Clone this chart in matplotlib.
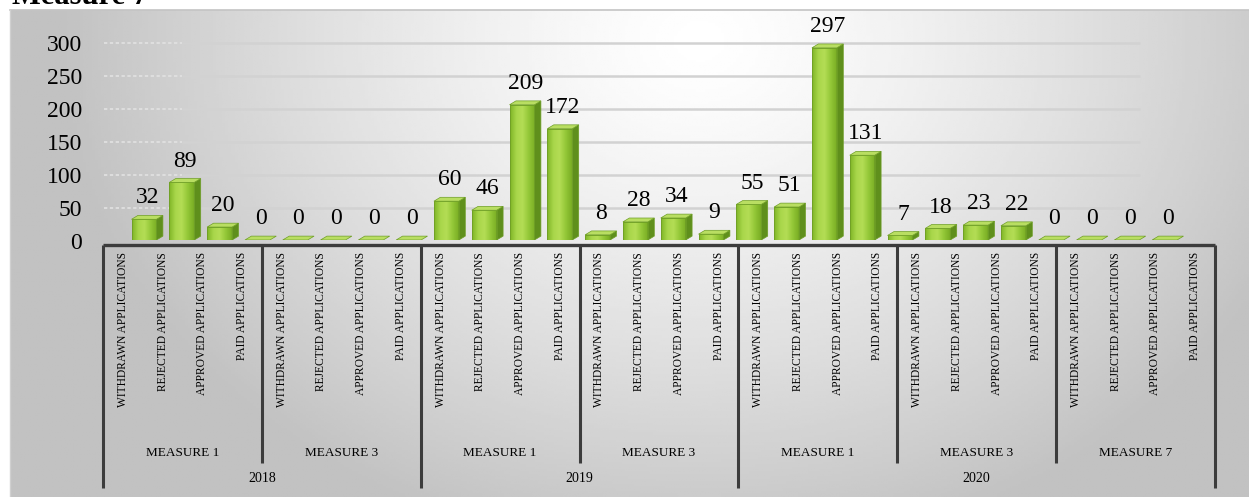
import numpy as np
import matplotlib.pyplot as plt
from matplotlib.patches import Polygon, Rectangle

plt.rcParams['font.family'] = ['Liberation Serif', 'DejaVu Serif']

# ---------------------------------------------------------------------------
# Data: applications per status, grouped by measure and year
# ---------------------------------------------------------------------------
years = ["2018", "2019", "2020"]
measures = ["MEASURE 1", "MEASURE 3", "MEASURE 1", "MEASURE 3",
            "MEASURE 1", "MEASURE 3", "MEASURE 7"]
measure_year = [0, 0, 1, 1, 2, 2, 2]
statuses = ["WITHDRAWN APPLICATIONS", "REJECTED APPLICATIONS",
            "APPROVED APPLICATIONS", "PAID APPLICATIONS"]

m1_2018 = [32, 89, 20, 0]
m3_2018 = [0, 0, 0, 0]
m1_2019 = [60, 46, 209, 172]
m3_2019 = [8, 28, 34, 9]
m1_2020 = [55, 51, 297, 131]
m3_2020 = [7, 18, 23, 22]
m7_2020 = [0, 0, 0, 0]

values = m1_2018 + m3_2018 + m1_2019 + m3_2019 + m1_2020 + m3_2020 + m7_2020
y_ticks = [0, 50, 100, 150, 200, 250, 300]

# ---------------------------------------------------------------------------
# Figure + background panel (pixel coordinates)
# ---------------------------------------------------------------------------
W, H = 1249, 497
fig = plt.figure(figsize=(W / 100, H / 100), dpi=100)

bg = fig.add_axes([0, 0, 1, 1])
bg.set_xlim(0, W)
bg.set_ylim(H, 0)
bg.axis("off")

gx, gy = np.meshgrid(np.linspace(10, W, 400), np.linspace(10, H, 200))
d = np.sqrt(((gx - 700) / 640) ** 2 + ((gy - 40) / 520) ** 2)
shade = 1.0 - 0.24 * np.clip(d, 0, 1) ** 1.3
bg.imshow(shade, cmap="gray", vmin=0, vmax=1, extent=(10, W, H, 10),
          aspect="auto", zorder=0)
bg.plot([10, W], [10, 10], color="#c4c4c4", lw=1.2, zorder=1)
bg.plot([10, 10], [10, H], color="#d0d0d0", lw=1.0, zorder=1)

# heading sits above the panel and runs off the top edge
bg.text(12, 4, "Measure 7", fontsize=22, fontweight="bold",
        va="baseline", ha="left", color="black")

# ---------------------------------------------------------------------------
# Category table under the bars
# ---------------------------------------------------------------------------
tab_left, tab_right, tab_top = 103, 1215, 245
n_cat = len(values)
step = (tab_right - tab_left) / n_cat
line_c = "#3c3c3c"

bg.plot([tab_left, tab_right], [tab_top, tab_top], color=line_c, lw=2.4,
        zorder=3, solid_capstyle="butt")

year_edges = {0, 2, 4, 7}
for g in range(len(measures) + 1):
    xb = tab_left + 4 * g * step
    bottom = 488 if g in year_edges else 463
    bg.plot([xb, xb], [tab_top, bottom], color=line_c, lw=2.2, zorder=3,
            solid_capstyle="butt")

for i in range(n_cat):
    cx = tab_left + (i + 0.5) * step
    bg.text(cx, 252, statuses[i % 4], rotation=90, ha="center", va="top",
            fontsize=8.3, zorder=4)

for g, name in enumerate(measures):
    cx = tab_left + (4 * g + 2) * step
    bg.text(cx, 453, name, ha="center", va="center", fontsize=9.5, zorder=4)

for y, label in enumerate(years):
    groups = [g for g, yy in enumerate(measure_year) if yy == y]
    x0 = tab_left + 4 * groups[0] * step
    x1 = tab_left + 4 * (groups[-1] + 1) * step
    bg.text((x0 + x1) / 2, 479, label, ha="center", va="center",
            fontsize=10, zorder=4)

# ---------------------------------------------------------------------------
# Back wall: value axis and gridlines
# ---------------------------------------------------------------------------
base_px, top_px = 241, 20
ax_left, ax_right = 100, 1215
bar_x0, bar_step = 144, 37.8      # bars are drawn slightly converging
x_lo = (ax_left - bar_x0) / bar_step
x_hi = (ax_right - bar_x0) / bar_step

wall_ppu = (241 - 43) / 300.0
wall = fig.add_axes([ax_left / W, (H - base_px) / H,
                     (ax_right - ax_left) / W, (base_px - top_px) / H])
wall.patch.set_alpha(0)
for s in wall.spines.values():
    s.set_visible(False)
wall.set_xticks([])
wall.set_yticks(y_ticks)
wall.set_yticklabels([str(t) for t in y_ticks], fontsize=17)
wall.tick_params(axis="y", length=0, pad=13)

grid_end = (1140 - bar_x0) / bar_step
wall.hlines(y_ticks[1:], 1.0, grid_end, color="#d2d2d2", lw=1.8, zorder=0)
wall.hlines(y_ticks[1:], x_lo + 0.1, 1.0, color="#e2e2e2", lw=1.2,
            linestyles=(0, (2, 1.5)), zorder=0)
wall.set_xlim(x_lo, x_hi)
wall.set_ylim(0, (base_px - top_px) / wall_ppu)

# ---------------------------------------------------------------------------
# 3D-looking columns (front plane sits a little lower than the wall)
# ---------------------------------------------------------------------------
bar_base = 240
bar_ppu = 0.647
ax = fig.add_axes([ax_left / W, (H - bar_base) / H,
                   (ax_right - ax_left) / W, (bar_base - top_px + 8) / H])
ax.patch.set_alpha(0)
ax.axis("off")

front_cmap = plt.matplotlib.colors.LinearSegmentedColormap.from_list(
    "lime", ["#7fb526", "#a8d64a", "#b4dd55", "#94c838", "#7aae24"])
side_c = "#5f8f1c"
top_c = "#b9de62"
edge_c = "#6e9e26"

w, dx, dy = 0.66, 0.17, 6.0
grad = np.linspace(0, 1, 64).reshape(1, -1)

for i, v in enumerate(values):
    x0, x1 = i - w / 2, i + w / 2
    if v > 0:
        front = Rectangle((x0, 0), w, v, fc="none", ec=edge_c, lw=0.6,
                          zorder=3)
        ax.add_patch(front)
        im = ax.imshow(grad, cmap=front_cmap, extent=(x0, x1, 0, v),
                       aspect="auto", zorder=2)
        im.set_clip_path(front)
        ax.add_patch(Polygon([(x1, 0), (x1 + dx, dy), (x1 + dx, v + dy),
                              (x1, v)], closed=True, fc=side_c, ec=edge_c,
                             lw=0.5, zorder=2))
    ax.add_patch(Polygon([(x0, v), (x1, v), (x1 + dx, v + dy),
                          (x0 + dx, v + dy)], closed=True, fc=top_c,
                         ec=edge_c, lw=0.5, zorder=3))
    ax.annotate(str(v), (i + dx / 2, v + dy), xytext=(0, 5),
                textcoords="offset points", ha="center", va="bottom",
                fontsize=17, zorder=5, annotation_clip=False)

ax.set_xlim(x_lo, x_hi)
ax.set_ylim(0, (bar_base - top_px + 8) / bar_ppu)

fig.savefig("out.png", dpi=100)
